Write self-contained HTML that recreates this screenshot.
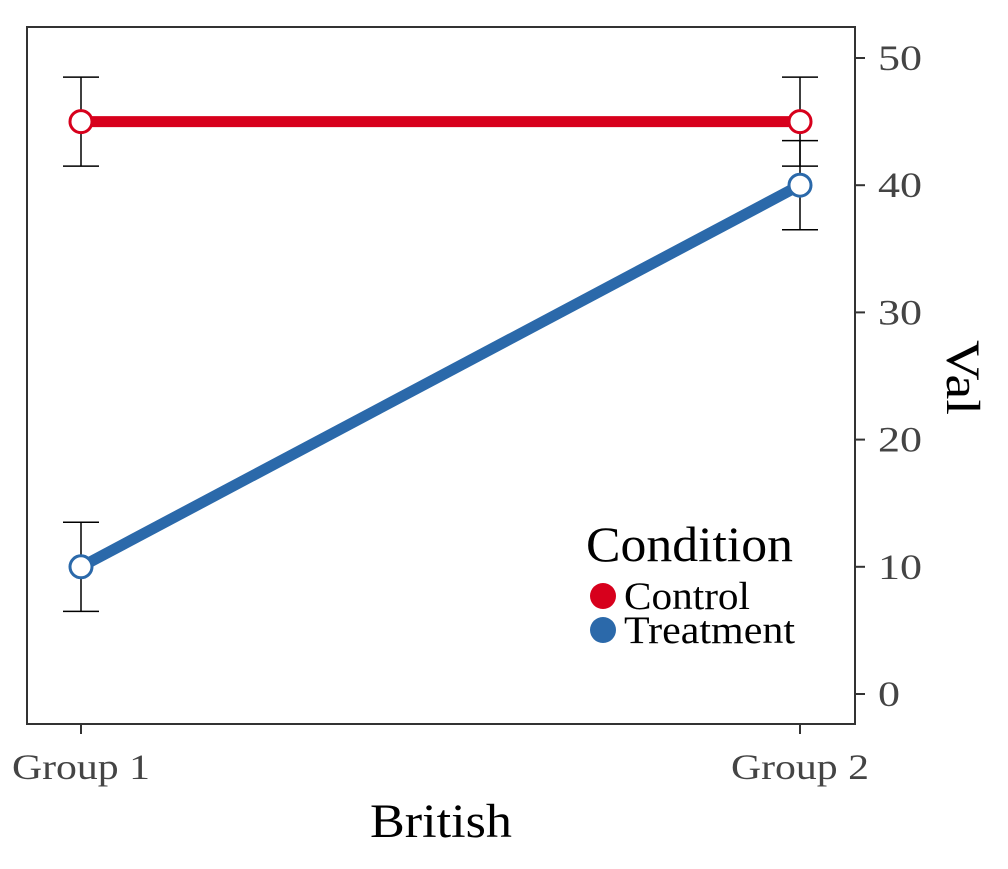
<!DOCTYPE html>
<html><head><meta charset="utf-8"><style>
html,body{margin:0;padding:0;background:#fff;}
svg text{font-family:"Liberation Serif",serif;}
</style></head><body>
<svg id="chart" width="1008" height="864" viewBox="0 0 1008 864">
<rect x="27" y="27" width="828" height="697" fill="none" stroke="#333" stroke-width="2"/>
<g id="axes"></g>
<g id="series"></g>
<text x="370" y="837" font-size="48" textLength="142" lengthAdjust="spacingAndGlyphs" fill="#000">British</text>
<text transform="translate(947,340) rotate(90)" font-size="48" textLength="75" lengthAdjust="spacingAndGlyphs" fill="#000">Val</text>
<g>
<text x="586" y="561" font-size="50" textLength="207" lengthAdjust="spacingAndGlyphs" fill="#000">Condition</text>
<circle cx="603" cy="596" r="13" fill="#d7001c"/>
<text x="624" y="609" font-size="39" textLength="126" lengthAdjust="spacingAndGlyphs" fill="#000">Control</text>
<circle cx="603" cy="630" r="13" fill="#2b69aa"/>
<text x="624" y="643" font-size="39" textLength="171" lengthAdjust="spacingAndGlyphs" fill="#000">Treatment</text>
</g>
</svg>
<script>
const categories = ["Group 1", "Group 2"];
const controlValues = [45, 45];
const controlErr = [3.5, 3.5];
const treatmentValues = [10, 40];
const treatmentErr = [3.5, 3.5];
const yTicks = [0, 10, 20, 30, 40, 50];

const NS = "http://www.w3.org/2000/svg";
function xs(i){ return 81 + i * (800 - 81) / (categories.length - 1); }
function ys(v){ return 694 - v * 12.72; }
function mk(tag, attrs, parent){
  const e = document.createElementNS(NS, tag);
  for (const k in attrs) e.setAttribute(k, attrs[k]);
  parent.appendChild(e);
  return e;
}
const axes = document.getElementById('axes');
const series = document.getElementById('series');
yTicks.forEach(v => {
  const t = mk('line', {x1:855, x2:865, y1:ys(v), y2:ys(v), stroke:'#333', 'stroke-width':2}, axes);
  
  
  const s = String(v);
  const l = mk('text', {x:878, y:ys(v)+12, 'font-size':36, fill:'#444', textLength:22*s.length, lengthAdjust:'spacingAndGlyphs'}, axes);
  l.textContent = s;
  
  
});
categories.forEach((c, i) => {
  const t = mk('line', {x1:xs(i), x2:xs(i), y1:724, y2:734, stroke:'#333', 'stroke-width':2}, axes);
  
  
  const l = mk('text', {x:xs(i)-69, y:779, 'font-size':36, fill:'#444', textLength:138, lengthAdjust:'spacingAndGlyphs'}, axes);
  l.textContent = c;
  
  
});
function drawSeries(vals, errs, color, name){
  const pts = vals.map((v, i) => xs(i) + ',' + ys(v)).join(' ');
  const pl = mk('polyline', {points:pts, fill:'none', stroke:color, 'stroke-width':11}, series);
  
  
  vals.forEach((v, i) => {
    const x = xs(i), y1 = ys(v + errs[i]), y2 = ys(v - errs[i]);
    const g = mk('g', {stroke:'#000', 'stroke-width':1.5}, series);
    
    
    mk('line', {x1:x, x2:x, y1:y1, y2:y2}, g);
    mk('line', {x1:x-18, x2:x+18, y1:y1, y2:y1}, g);
    mk('line', {x1:x-18, x2:x+18, y1:y2, y2:y2}, g);
  });
  vals.forEach((v, i) => {
    const c = mk('circle', {cx:xs(i), cy:ys(v), r:11, fill:'#fff', stroke:color, 'stroke-width':3}, series);
    
    
  });
}
drawSeries(controlValues, controlErr, '#d7001c', 'control');
drawSeries(treatmentValues, treatmentErr, '#2b69aa', 'treatment');
</script>
</body></html>
